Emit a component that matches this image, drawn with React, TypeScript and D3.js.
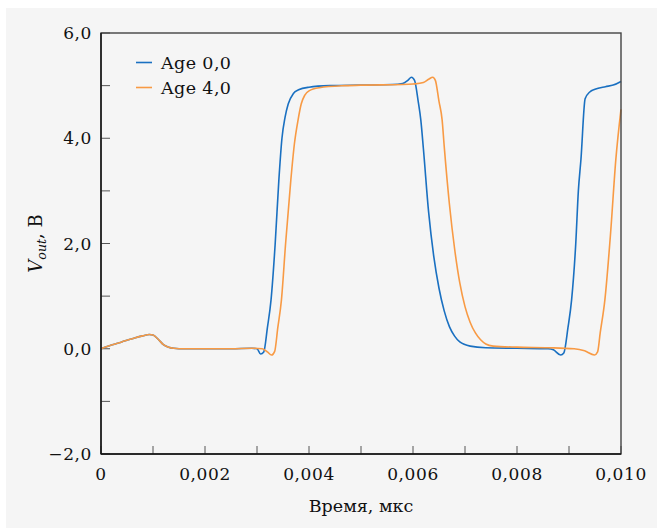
import React from 'react';
import * as d3 from 'd3';

// time (as labelled on the axis) and output voltage
const timeAge0 = [
  0, 0.0002, 0.0004, 0.0006, 0.0008, 0.00093, 0.001, 0.0011, 0.0012, 0.0013, 0.0014, 0.0016, 0.002, 0.0025,
  0.0029, 0.003, 0.00307, 0.00313, 0.0032, 0.00327, 0.00335, 0.00342, 0.00348, 0.00354, 0.0036, 0.0037,
  0.0038, 0.004, 0.0044, 0.005, 0.0056, 0.0058, 0.0059, 0.00597, 0.00603, 0.0061, 0.00615, 0.0062, 0.0063,
  0.0064, 0.0065, 0.0066, 0.0067, 0.0068, 0.0069, 0.0071, 0.0074, 0.008, 0.0086, 0.0087, 0.00884, 0.0089,
  0.00898, 0.00905, 0.00913, 0.00918, 0.00923, 0.00931, 0.0094, 0.0095, 0.0097, 0.00985, 0.01,
];
const voltAge0 = [
  0, 0.07, 0.13, 0.19, 0.245, 0.27, 0.26, 0.18, 0.08, 0.03, 0.01, 0, 0, 0,
  0.01, 0, -0.1, -0.06, 0.4, 0.93, 2.0, 3.2, 4.0, 4.4, 4.65, 4.85,
  4.92, 4.97, 5.0, 5.01, 5.02, 5.04, 5.1, 5.16, 5.1, 4.7, 4.35, 3.8, 2.6,
  1.75, 1.15, 0.72, 0.42, 0.24, 0.13, 0.05, 0.02, 0.01, 0, -0.02, -0.12, -0.08,
  0.4, 0.93, 2.0, 3.0, 3.6, 4.75, 4.88, 4.93, 4.98, 5.01, 5.08,
];
const timeAge4 = [
  0, 0.0002, 0.0004, 0.0006, 0.0008, 0.00093, 0.001, 0.0011, 0.0012, 0.0013, 0.0014, 0.0016, 0.002, 0.0025,
  0.0029, 0.0031, 0.0032, 0.00328, 0.00334, 0.0034, 0.00347, 0.00355, 0.00365, 0.00372, 0.00379, 0.00385,
  0.00392, 0.004, 0.0042, 0.0047, 0.005, 0.0058, 0.006, 0.0062, 0.0063, 0.00638, 0.00643, 0.0065, 0.00656,
  0.0066, 0.0067, 0.0068, 0.0069, 0.007, 0.0071, 0.0072, 0.0073, 0.0074, 0.00754, 0.008, 0.0086, 0.0091,
  0.0093, 0.00949, 0.00955, 0.0096, 0.00969, 0.0098, 0.0099, 0.01,
];
const voltAge4 = [
  0, 0.07, 0.13, 0.19, 0.245, 0.27, 0.26, 0.18, 0.08, 0.03, 0.01, 0, 0, 0,
  0.01, 0, -0.06, -0.12, -0.05, 0.4, 0.93, 2.0, 3.2, 3.9, 4.35, 4.65,
  4.82, 4.9, 4.96, 5.0, 5.01, 5.02, 5.03, 5.06, 5.12, 5.16, 5.1, 4.7, 4.35,
  3.85, 2.75, 1.9, 1.25, 0.8, 0.5, 0.3, 0.17, 0.09, 0.05, 0.03, 0.02, 0,
  -0.04, -0.12, -0.06, 0.3, 0.93, 2.2, 3.59, 4.55,
];

const seriesNames = ['Age 0,0', 'Age 4,0'];
const seriesColors = ['#1a70c1', '#f89a44'];

const xTicks = [0, 0.001, 0.002, 0.003, 0.004, 0.005, 0.006, 0.007, 0.008, 0.009, 0.01];
const xLabelled = [0, 0.002, 0.004, 0.006, 0.008, 0.01];
const yTicks = [-2, -1, 0, 1, 2, 3, 4, 5, 6];
const yLabelled = [-2, 0, 2, 4, 6];

const W = 657;
const H = 528;
const margin = { top: 33, right: 36, bottom: 74, left: 101 };
const font = '"DejaVu Serif", serif';

const commaFmt = (f: string) => (v: number) => (v === 0 && f === '.3f' ? '0' : d3.format(f)(v).replace('.', ','));

export default function App() {
  const x = d3.scaleLinear().domain([0, 0.01]).range([margin.left, W - margin.right]);
  const y = d3.scaleLinear().domain([-2, 6]).range([H - margin.bottom, margin.top]);
  const line = d3
    .line<[number, number]>()
    .x((d) => x(d[0]))
    .y((d) => y(d[1]))
    .curve(d3.curveMonotoneX);

  const series = [
    d3.zip(timeAge0, voltAge0) as [number, number][],
    d3.zip(timeAge4, voltAge4) as [number, number][],
  ];
  const fx = commaFmt('.3f');
  const fy = commaFmt('.1f');
  const x0 = margin.left;
  const x1 = W - margin.right;
  const y0 = H - margin.bottom;
  const y1 = margin.top;

  return (
    <svg width={W} height={H} style={{ position: 'absolute', left: 0, top: 0 }} fontFamily={font}>
      <rect x={0} y={0} width={W} height={H} fill="#fff" />
      <rect x={6} y={8} width={W - 6} height={H - 8} fill="#f5f5f5" />

      {/* ticks */}
      <g stroke="#555" strokeWidth={1}>
        {yTicks.map((t) => (
          <line key={'y' + t} x1={x0} x2={x0 + 9} y1={y(t)} y2={y(t)} />
        ))}
        {xTicks.map((t) => (
          <line key={'x' + t} x1={x(t)} x2={x(t)} y1={y0} y2={y0 - 8} />
        ))}
      </g>

      {/* curves */}
      <g fill="none" strokeWidth={1.6}>
        {series.map((s, i) => (
          <path key={i} d={line(s) || ''} stroke={seriesColors[i]} />
        ))}
      </g>

      {/* frame */}
      <rect x={x0} y={y1} width={x1 - x0} height={y0 - y1} fill="none" stroke="#444" strokeWidth={1.4} />
      <line x1={x0} x2={x0} y1={y1} y2={y0} stroke="#111" strokeWidth={1.4} />
      <line x1={x0} x2={x1} y1={y0} y2={y0} stroke="#111" strokeWidth={1.4} />

      {/* tick labels */}
      <g fontSize={17} fill="#111" letterSpacing={0.6}>
        {yLabelled.map((t) => (
          <text key={t} x={x0 - 9} y={y(t)} textAnchor="end" dominantBaseline="central">
            {fy(t)}
          </text>
        ))}
        {xLabelled.map((t) => (
          <text key={t} x={x(t)} y={480} textAnchor="middle">
            {fx(t)}
          </text>
        ))}
      </g>

      {/* axis titles */}
      <text x={(x0 + x1) / 2} y={512} textAnchor="middle" fontSize={17.5} fill="#111">
        Время, мкс
      </text>
      <text transform={`translate(42,${(y0 + y1) / 2}) rotate(-90)`} textAnchor="middle" fontSize={18} fill="#111">
        <tspan fontStyle="italic">V</tspan>
        <tspan fontStyle="italic" fontSize={12.5} dy={4}>
          out
        </tspan>
        <tspan dy={-4}>, В</tspan>
      </text>

      {/* legend */}
      {seriesNames.map((n, i) => (
        <g key={n} transform={`translate(136,${62.5 + i * 25})`}>
          <line x1={0} x2={16} y1={0} y2={0} stroke={seriesColors[i]} strokeWidth={1.6} />
          <text x={25} y={0} dominantBaseline="central" fontSize={17.5} fill="#111" letterSpacing={0.4}>
            {n}
          </text>
        </g>
      ))}
    </svg>
  );
}
